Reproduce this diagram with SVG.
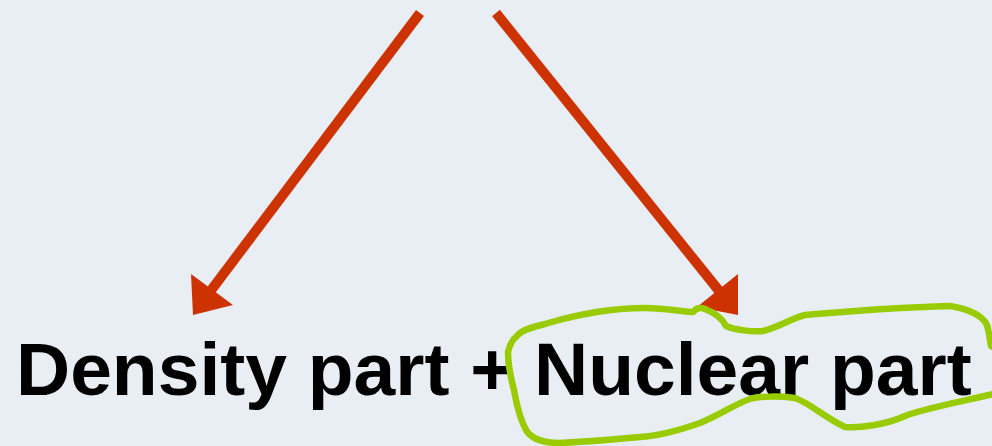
<svg xmlns="http://www.w3.org/2000/svg" width="992" height="446" viewBox="0 0 992 446">
  <style>
    .label { font-family: "Liberation Sans", Arial, sans-serif; font-weight: bold; font-size: 75px; fill: #000000; }
    .arrow { stroke: #cc3300; stroke-width: 10; fill: none; }
    .head { fill: #cc3300; }
    .loop { stroke: #99cc00; stroke-width: 6.5; fill: none; stroke-linejoin: round; stroke-linecap: round; }
  </style>
  <rect x="0" y="0" width="992" height="446" fill="#e9eef5"/>

  <!-- connectors: two red arrows splitting downward -->
  <g id="connectors">
    <line class="arrow" x1="420" y1="13" x2="206" y2="297"/>
    <polygon class="head" points="193,315 191,274 233,305"/>
    <line class="arrow" x1="496" y1="13" x2="724" y2="297"/>
    <polygon class="head" points="738,315 738,274 697,307"/>
  </g>

  <g id="density-part">
    <text class="label" x="16" y="395">Density part +</text>
  </g>

  <g id="nuclear-part">
    <text class="label" x="534" y="395">Nuclear part</text>
    <!-- hand-drawn highlight loop -->
    <path class="loop" d="M 517,336
      C 522,328 540,326 552,322
      C 580,314 615,308 645,308
      C 665,308 685,312 693,312
      C 696,308 700,307 705,309
      C 715,313 722,318 726,326
      C 735,330 752,332 763,331
      C 780,327 792,318 805,315
      C 850,311 910,307 950,306
      C 968,309 982,315 987,325
      C 989,332 990,340 991,346
      L 998,350 L 998,393
      C 960,402 925,408 905,416
      C 885,425 860,428 845,427
      C 825,418 810,403 795,398
      C 780,396 760,396 750,399
      C 735,404 720,415 700,423
      C 680,430 660,436 640,437
      C 610,440 580,442 560,443
      C 545,443 532,440 526,430
      C 518,415 516,400 514,390
      C 510,375 508,360 508,352
      C 510,343 513,339 517,336 Z"/>
  </g>
</svg>
